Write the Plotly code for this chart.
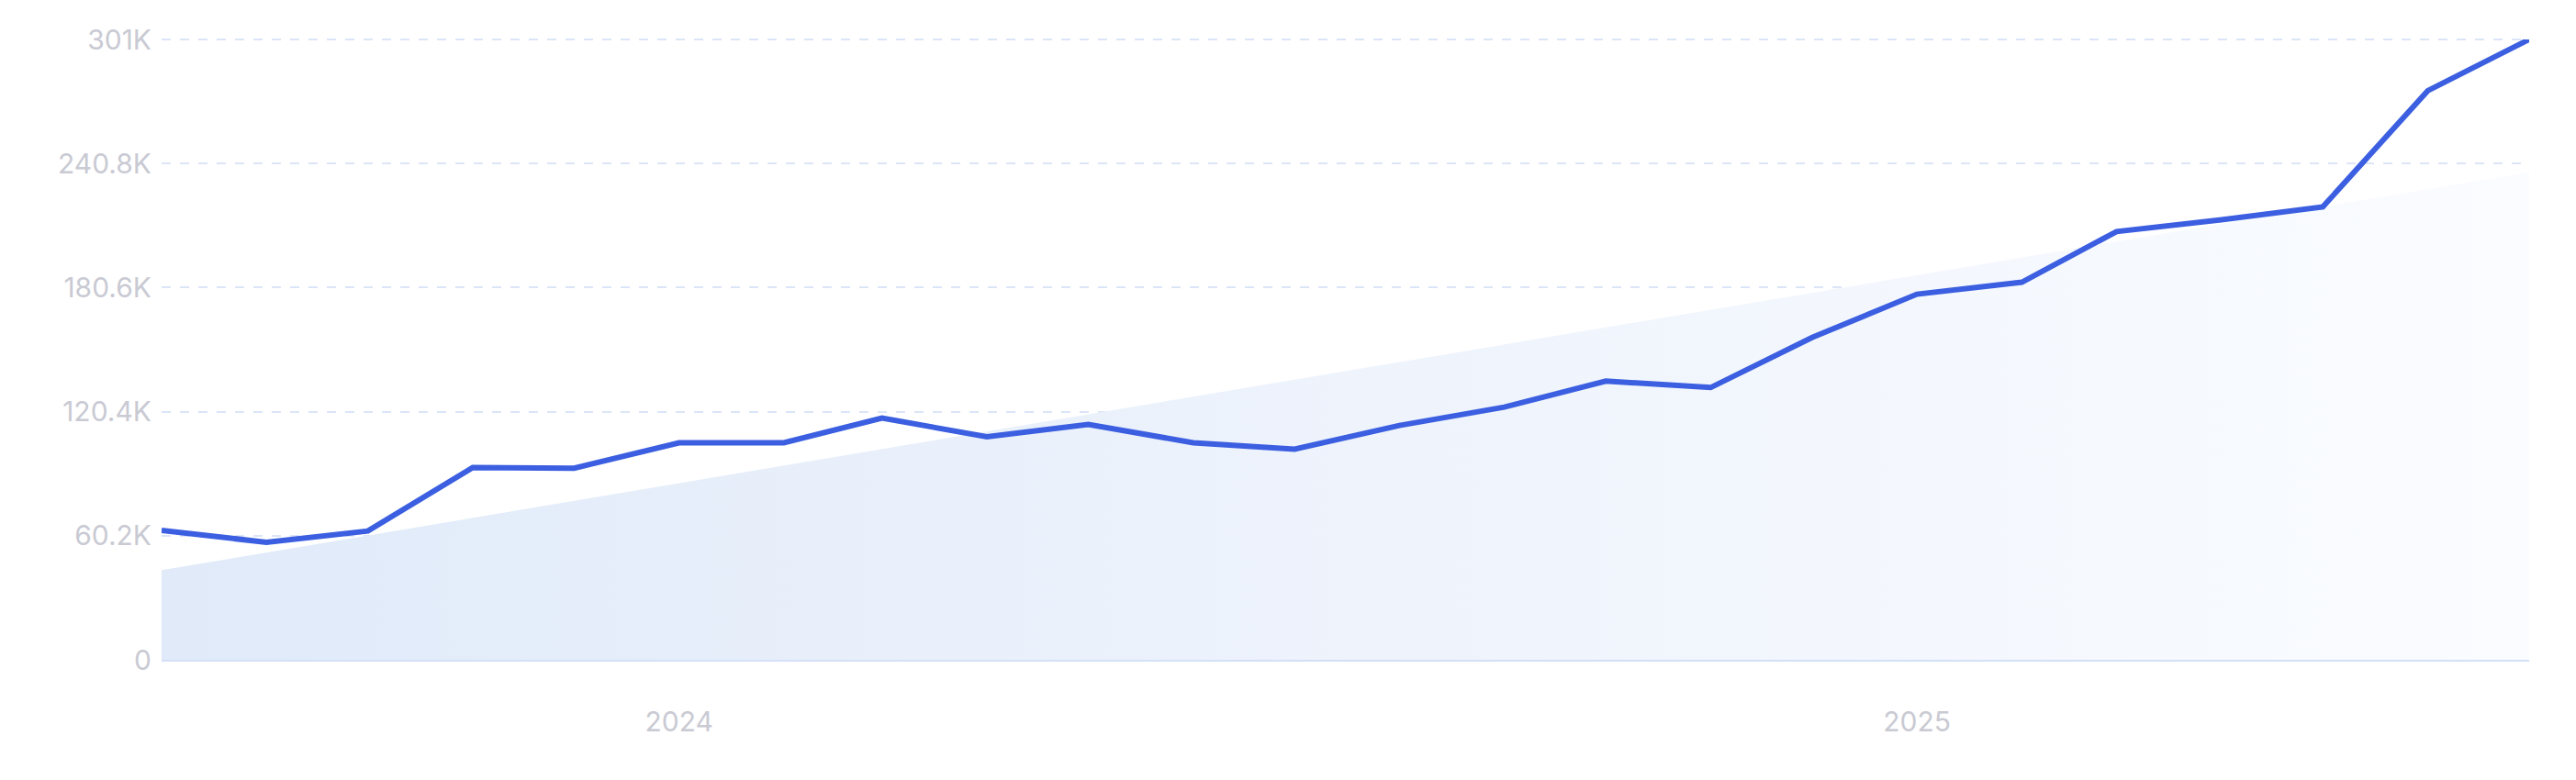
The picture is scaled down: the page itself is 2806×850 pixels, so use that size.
import numpy as np
import pandas as pd
import plotly.graph_objects as go

# monthly values
months = pd.date_range("2023-08-01", "2025-07-01", freq="MS")
values = [62800, 57000, 62500, 93300, 93000, 105300, 105300, 117300, 108200, 114200,
          105300, 102200, 113700, 122600, 135200, 132100, 156400, 177400, 183200, 207800,
          213500, 219800, 276100, 301000]

y_ticks = [0, 60200, 120400, 180600, 240800, 301000]
y_tick_text = ["0", "60.2K", "120.4K", "180.6K", "240.8K", "301K"]
x_ticks = ["2024-01-01", "2025-01-01"]
x_tick_text = ["2024", "2025"]

# linear trend behind the line
days = (months - months[0]).days.values
k, b = np.polyfit(days, values, 1)
trend = k * days + b

# page body has an 8px margin, so the figure is shrunk to fit the window
W, H = 2790, 834
ml, mr, mt, mb = 168, 43, 35, 123

grid_color = "#dce5f8"
label_font = dict(family="Inter, Lato, sans-serif", size=30, color="#c9cad3")

fig = go.Figure()

fig.add_trace(go.Scatter(
    x=months, y=trend, mode="lines", line=dict(width=0),
    fill="tozeroy",
    fillgradient=dict(type="horizontal",
                      colorscale=[[0, "#e0eaf9"], [0.5, "#eef3fc"], [1, "#fafcff"]]),
    hoverinfo="skip", showlegend=False))

fig.add_trace(go.Scatter(
    x=months, y=values, mode="lines",
    line=dict(color="#3b5fe0", width=6),
    showlegend=False))

fig.update_layout(
    width=W, height=H,
    margin=dict(l=ml, r=mr, t=mt, b=mb),
    paper_bgcolor="white",
    plot_bgcolor="white",
    # top gridline sits on the plot edge, plotly drops it, so draw it here
    shapes=[dict(type="line", xref="paper", yref="paper", x0=0, x1=1, y0=1, y1=1,
                 layer="below", line=dict(color=grid_color, width=2, dash="10px,10px"))],
    xaxis=dict(
        type="date", range=[months[0], months[-1]],
        tickvals=x_ticks, ticktext=x_tick_text,
        showgrid=False, zeroline=False,
        showline=True, linecolor="#d3e0f8", linewidth=2,
        ticks="", ticklabelstandoff=40, tickfont=label_font),
    yaxis=dict(
        range=[0, 301000], tickvals=y_ticks, ticktext=y_tick_text,
        showgrid=True, gridcolor=grid_color, gridwidth=2, griddash="10px,10px",
        zeroline=False, showline=False, ticks="",
        ticklabelstandoff=10, tickfont=label_font),
)

fig.write_html("out.html")
